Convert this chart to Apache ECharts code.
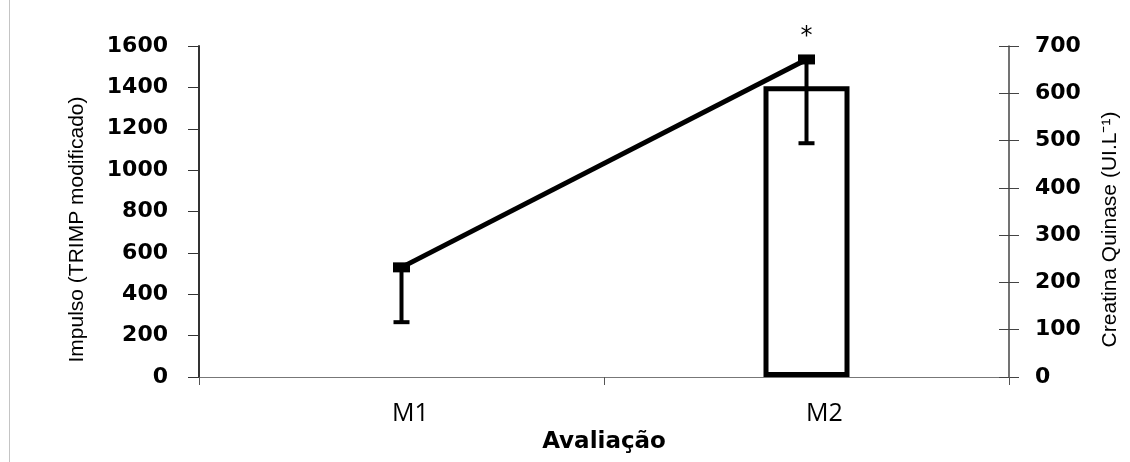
<!DOCTYPE html>
<html>
<head>
<meta charset="utf-8">
<script src="https://cdn.jsdelivr.net/npm/echarts@6/dist/echarts.min.js"></script>
<style>
  html, body { margin: 0; padding: 0; background: #fff; }
  #chart { width: 1130px; height: 462px; }
</style>
</head>
<body>
<div id="chart"></div>
<script>
// Sessions
const categories = ['M1', 'M2'];
// Training impulse (TRIMP modificado), mean and lower end of the error bar
const impulseMean = [530, 1535];
const impulseLow = [265, 1130];
// Creatine kinase (UI.L-1)
const ckValues = [null, 615];
// Significance marker per session
const sigMarks = ['', '*'];

const leftTicks = { min: 0, max: 1600, interval: 200 };
const rightTicks = { min: 0, max: 700, interval: 100 };

const tickFont = { fontFamily: 'DejaVu Sans', fontWeight: 'bold', fontSize: 22, color: '#000' };
const nameFont = {
  fontFamily: '"Liberation Sans", Arial',
  fontSize: 21,
  color: '#000',
  padding: [0, 36, 0, 0]
};

const chart = echarts.init(document.getElementById('chart'), null, { renderer: 'canvas' });

const errorData = categories.map((c, i) => [i, impulseMean[i], impulseLow[i]]);

chart.setOption({
  animation: false,
  backgroundColor: '#fff',
  grid: { left: 199, right: 121, top: 46, bottom: 85, containLabel: false },
  graphic: [{
    type: 'line',
    shape: { x1: 9.5, y1: 0, x2: 9.5, y2: 462 },
    style: { stroke: '#c4c4c4', lineWidth: 1 }
  }],
  xAxis: {
    type: 'category',
    data: categories,
    boundaryGap: true,
    name: 'Avaliação',
    nameLocation: 'middle',
    nameGap: 42,
    nameTextStyle: { fontFamily: 'DejaVu Sans', fontWeight: 'bold', fontSize: 23, color: '#000' },
    axisLine: { lineStyle: { color: '#777', width: 1 } },
    axisTick: { show: true, length: 8, lineStyle: { color: '#555', width: 1 } },
    axisLabel: {
      margin: 24,
      formatter: v => v === 'M1' ? '{a|' + v + '}' : '{b|' + v + '}',
      rich: {
        a: { fontFamily: '"Open Sans"', fontSize: 25, color: '#000', padding: [0, 0, 0, 18] },
        b: { fontFamily: '"Open Sans"', fontSize: 25, color: '#000', padding: [0, 0, 0, 36] }
      }
    },
    splitLine: { show: false }
  },
  yAxis: [
    {
      type: 'value',
      position: 'left',
      min: leftTicks.min, max: leftTicks.max, interval: leftTicks.interval,
      name: 'Impulso (TRIMP modificado)',
      nameLocation: 'middle',
      nameRotate: 90,
      nameGap: 111,
      nameTextStyle: nameFont,
      axisLine: { show: true, lineStyle: { color: '#333', width: 2 } },
      axisTick: { show: true, length: 11, lineStyle: { color: '#333', width: 1 } },
      axisLabel: Object.assign({ margin: 31, formatter: v => String(v) }, tickFont),
      splitLine: { show: false }
    },
    {
      type: 'value',
      position: 'right',
      min: rightTicks.min, max: rightTicks.max, interval: rightTicks.interval,
      name: 'Creatina Quinase (UI.L⁻¹)',
      nameLocation: 'middle',
      nameRotate: 90,
      nameGap: 91,
      nameTextStyle: nameFont,
      axisLine: { show: true, lineStyle: { color: '#444', width: 1.5 } },
      axisTick: { show: true, length: 10, lineStyle: { color: '#444', width: 1 } },
      axisLabel: Object.assign({ margin: 26, formatter: v => String(v) }, tickFont),
      splitLine: { show: false }
    },
    {
      // inner half of the crossing ticks on the right axis
      type: 'value',
      position: 'right',
      min: rightTicks.min, max: rightTicks.max, interval: rightTicks.interval,
      axisLine: { show: false },
      axisTick: { show: true, inside: true, length: 10, lineStyle: { color: '#444', width: 1 } },
      axisLabel: { show: false },
      splitLine: { show: false }
    }
  ],
  series: [
    {
      type: 'bar',
      yAxisIndex: 1,
      data: ckValues,
      barWidth: 86,
      itemStyle: { color: '#fff', borderColor: '#000', borderWidth: 5 },
      z: 1
    },
    {
      type: 'line',
      yAxisIndex: 0,
      data: impulseMean,
      symbol: 'rect',
      symbolSize: [17, 10],
      lineStyle: { color: '#000', width: 5 },
      itemStyle: { color: '#000' },
      label: {
        show: true,
        position: 'top',
        distance: 6,
        formatter: p => sigMarks[p.dataIndex],
        fontFamily: 'DejaVu Sans',
        fontSize: 24,
        color: '#000'
      },
      z: 3
    },
    {
      type: 'custom',
      yAxisIndex: 0,
      data: errorData,
      encode: { x: 0, y: [1, 2] },
      renderItem: (params, api) => {
        const x = api.value(0);
        const top = api.coord([x, api.value(1)]);
        const bottom = api.coord([x, api.value(2)]);
        const half = 8;
        return {
          type: 'group',
          children: [
            {
              type: 'line',
              shape: { x1: top[0], y1: top[1], x2: bottom[0], y2: bottom[1] },
              style: { stroke: '#000', lineWidth: 4 }
            },
            {
              type: 'line',
              shape: { x1: bottom[0] - half, y1: bottom[1], x2: bottom[0] + half, y2: bottom[1] },
              style: { stroke: '#000', lineWidth: 4 }
            }
          ]
        };
      },
      z: 4
    }
  ]
});
</script>
</body>
</html>
